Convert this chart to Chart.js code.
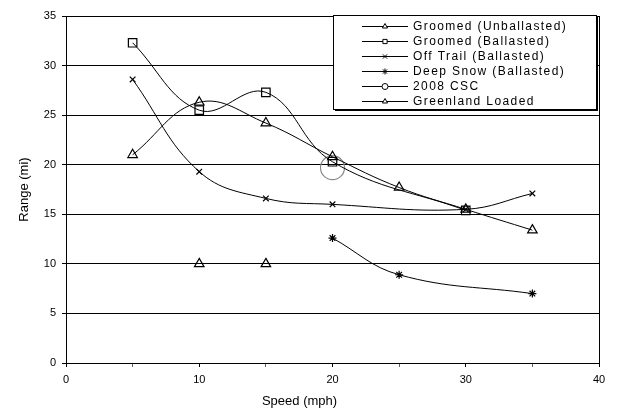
<!DOCTYPE html>
<html>
<head>
<meta charset="utf-8">
<script src="https://cdn.jsdelivr.net/npm/chart.js@4/dist/chart.umd.min.js"></script>
<style>
  body { margin: 0; background: #fff; }
  canvas { display: block; }
</style>
</head>
<body>
<canvas id="chart" width="617" height="415"></canvas>
<script>
// values (speed in mph, range in miles)
const groomedUnballastedSpeed = [5, 10, 15, 20, 25, 30, 35];
const groomedUnballastedRange = [21.0, 26.3, 24.2, 20.8, 17.7, 15.5, 13.4];

const groomedBallastedSpeed = [5, 10, 15, 20, 30];
const groomedBallastedRange = [32.3, 25.5, 27.3, 20.3, 15.4];

const offTrailSpeed = [5, 10, 15, 20, 30, 35];
const offTrailRange = [28.6, 19.3, 16.6, 16.0, 15.5, 17.1];

const deepSnowSpeed = [20, 25, 35];
const deepSnowRange = [12.6, 8.9, 7.0];

const cscSpeed = [20];
const cscRange = [19.7];

const greenlandSpeed = [10, 15];
const greenlandRange = [10.0, 10.0];

const xTicks = [0, 10, 20, 30, 40];

const toPoints = (xs, ys) => xs.map((x, i) => ({ x: x, y: ys[i] }));

// legend box drawn inside the plot, top right
const legendBox = {
  id: 'legendBox',
  afterDatasetsDraw(chart) {
    const ctx = chart.ctx;
    const left = 333, top = 15, w = 263, h = 94;
    ctx.save();
    ctx.fillStyle = '#000';
    ctx.fillRect(left + 2, top + 2, w, h);
    ctx.fillStyle = '#fff';
    ctx.fillRect(left, top, w, h);
    ctx.strokeStyle = '#000';
    ctx.lineWidth = 1;
    ctx.strokeRect(left + 0.5, top + 0.5, w, h);

    ctx.font = '12px "Liberation Sans", Arial, sans-serif';
    ctx.letterSpacing = '1.4px';
    ctx.textBaseline = 'middle';
    chart.data.datasets.forEach((ds, i) => {
      const y = 26 + i * 14.9;
      ctx.strokeStyle = '#000';
      ctx.beginPath();
      ctx.moveTo(362, Math.round(y) + 0.5);
      ctx.lineTo(408, Math.round(y) + 0.5);
      ctx.stroke();
      ctx.fillStyle = '#fff';
      ctx.strokeStyle = '#000';
      Chart.helpers.drawPoint(ctx, { pointStyle: ds.pointStyle, radius: 3, rotation: 0, borderWidth: 1 }, 385, Math.round(y) + 0.5);
      ctx.fillStyle = '#000';
      ctx.fillText(ds.label, 413, y + 1);
    });
    ctx.restore();
  }
};

// right edge of the plot area
const plotFrame = {
  id: 'plotFrame',
  beforeDatasetsDraw(chart) {
    const a = chart.chartArea;
    const ctx = chart.ctx;
    ctx.save();
    ctx.strokeStyle = '#000';
    ctx.lineWidth = 1;
    ctx.beginPath();
    ctx.moveTo(Math.round(a.right) + 0.5, a.top);
    ctx.lineTo(Math.round(a.right) + 0.5, a.bottom);
    ctx.stroke();
    ctx.restore();
  }
};

const font = { family: '"Liberation Sans", Arial, sans-serif', size: 11 };

new Chart(document.getElementById('chart'), {
  type: 'line',
  data: {
    datasets: [
      {
        label: 'Groomed (Unballasted)',
        data: toPoints(groomedUnballastedSpeed, groomedUnballastedRange),
        pointStyle: 'triangle', pointRadius: 5.5
      },
      {
        label: 'Groomed (Ballasted)',
        data: toPoints(groomedBallastedSpeed, groomedBallastedRange),
        pointStyle: 'rect', pointRadius: 6
      },
      {
        label: 'Off Trail (Ballasted)',
        data: toPoints(offTrailSpeed, offTrailRange),
        pointStyle: 'crossRot', pointRadius: 4
      },
      {
        label: 'Deep Snow (Ballasted)',
        data: toPoints(deepSnowSpeed, deepSnowRange),
        pointStyle: 'star', pointRadius: 4
      },
      {
        label: '2008 CSC',
        data: toPoints(cscSpeed, cscRange),
        pointStyle: 'circle', pointRadius: 12,
        pointBorderColor: '#888', showLine: false
      },
      {
        label: 'Greenland Loaded',
        data: toPoints(greenlandSpeed, greenlandRange),
        pointStyle: 'triangle', pointRadius: 5.5, showLine: false
      }
    ]
  },
  options: {
    responsive: false,
    animation: false,
    layout: { padding: { left: 0, right: 18, top: 16, bottom: 0 } },
    elements: {
      line: { borderColor: '#000', borderWidth: 1, tension: 0.4, fill: false },
      point: { backgroundColor: 'rgba(255,255,255,0)', borderColor: '#000', borderWidth: 1.2 }
    },
    plugins: {
      legend: { display: false },
      tooltip: { enabled: false },
      title: {
        display: true,
        position: 'bottom',
        text: 'Speed (mph)',
        color: '#000',
        font: { family: font.family, size: 13, weight: 'normal' },
        padding: { top: 4, bottom: 6 }
      }
    },
    scales: {
      x: {
        type: 'linear',
        min: 0,
        max: 40,
        afterFit(scale) { scale.height = 26.4; },
        border: { display: true, color: '#000', width: 1 },
        grid: {
          drawOnChartArea: false,
          drawTicks: true,
          tickLength: 4,
          tickColor: ctx => (ctx.tick && ctx.tick.value % 10 === 0) ? '#000' : '#666'
        },
        ticks: {
          stepSize: 5,
          color: '#000',
          font: font,
          padding: 6,
          maxRotation: 0,
          callback: v => xTicks.includes(v) ? String(v) : ''
        }
      },
      y: {
        min: 0,
        max: 35,
        afterFit(scale) { scale.width = 66; },
        border: { display: true, color: '#000', width: 1 },
        grid: { color: '#000', lineWidth: 1, tickLength: 4, tickColor: '#000' },
        ticks: { stepSize: 5, color: '#000', font: font, padding: 6 },
        title: {
          display: true,
          text: 'Range (mi)',
          color: '#000',
          font: { family: font.family, size: 13 },
          padding: { top: 17, bottom: 0 }
        }
      }
    }
  },
  plugins: [plotFrame, legendBox]
});
</script>
</body>
</html>
